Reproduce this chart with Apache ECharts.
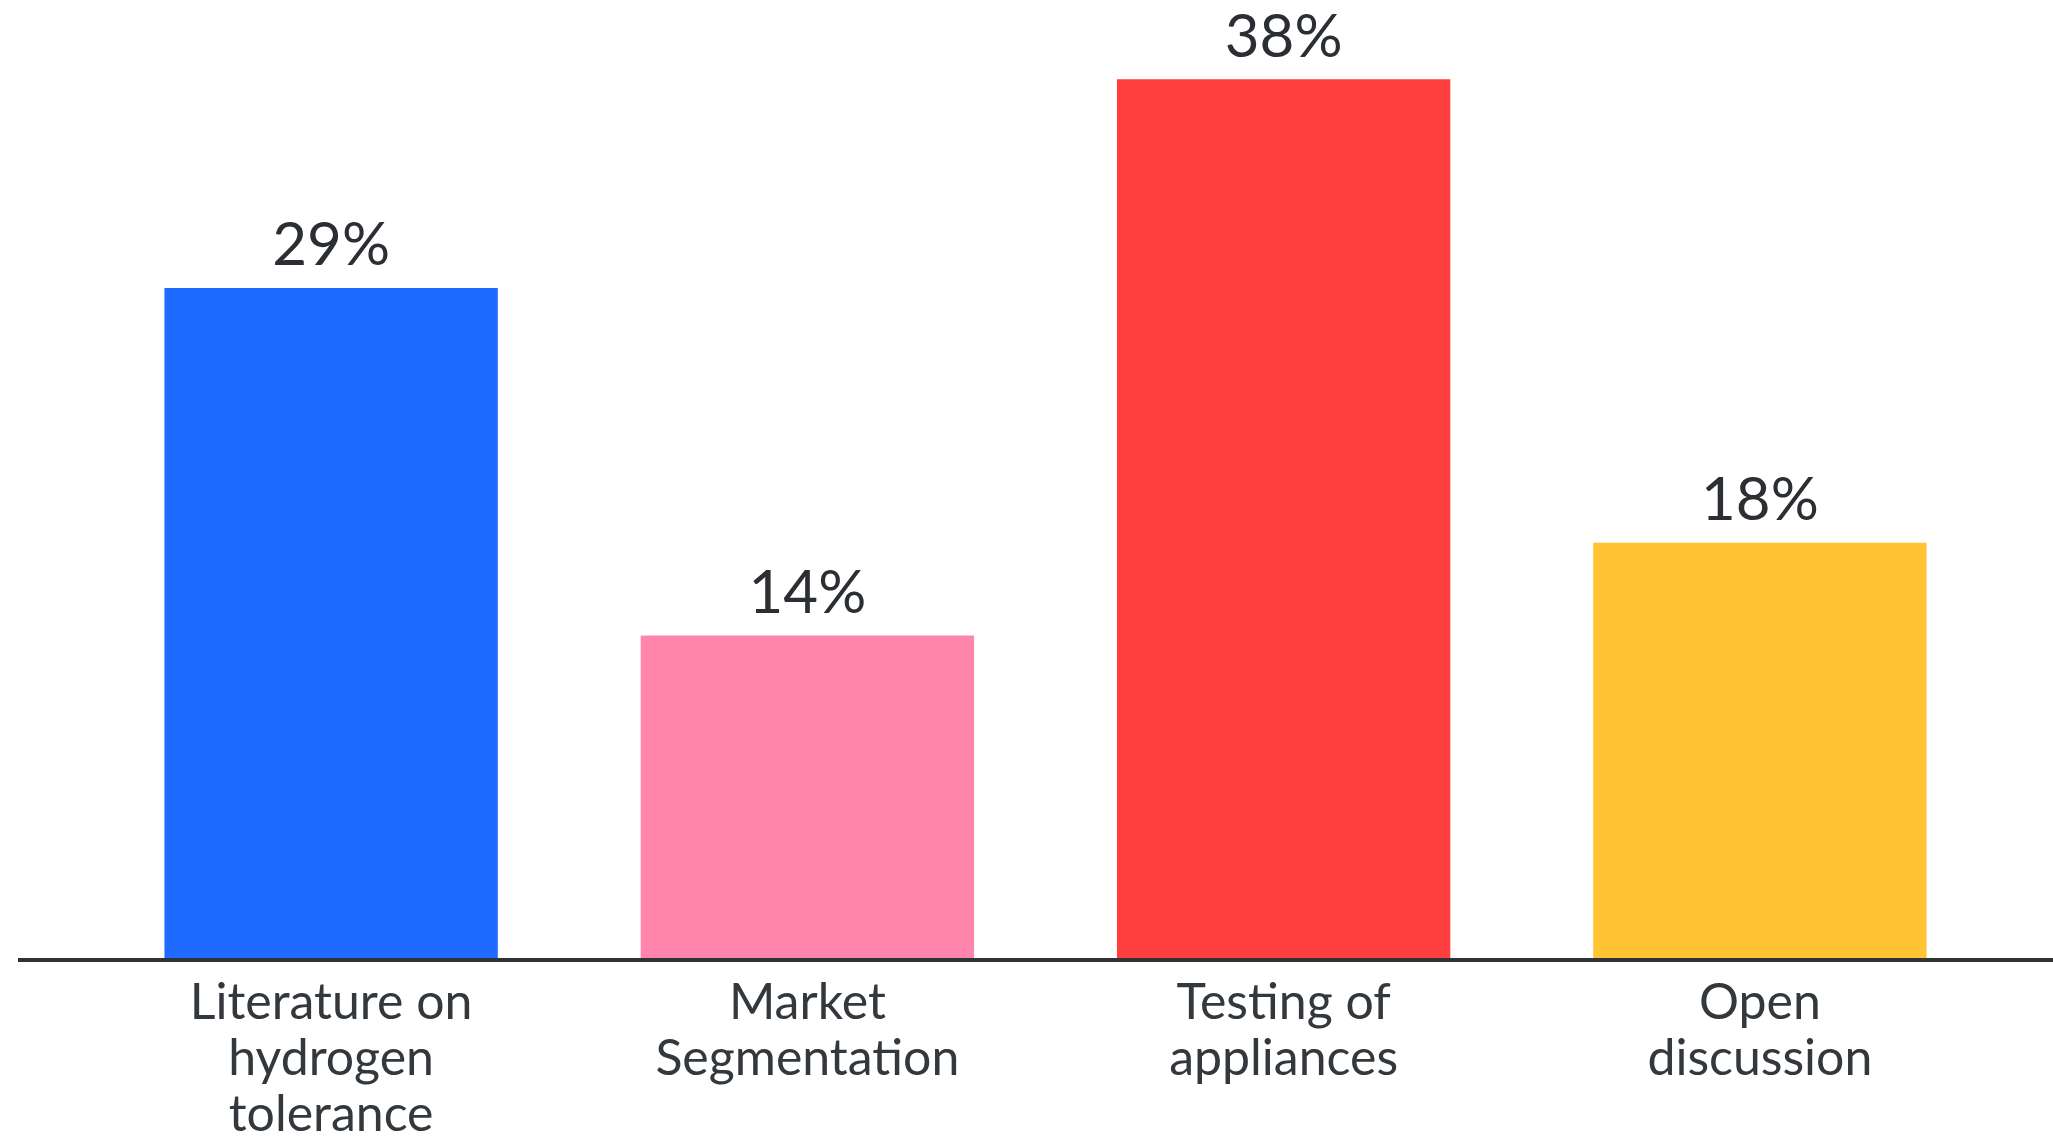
<!DOCTYPE html>
<html lang="en">
<head>
    <meta charset="UTF-8">
    <title>Bar chart</title>
    <script src="https://cdn.jsdelivr.net/npm/echarts@6/dist/echarts.min.js"></script>
    <style>
        * { margin: 0; padding: 0 }
        html, body { width: 100%; height: 100%; background: #fff; }
        #main { width: 2053px; height: 1139px; }
    </style>
</head>
<body>
<div id="main"></div>
<script>
    // data
    var categories = ['Literature on\nhydrogen\ntolerance', 'Market\nSegmentation', 'Testing of\nappliances', 'Open\ndiscussion'];
    var values = [29, 14, 38, 18];
    var barColors = ['#1f6bff', '#ff85ad', '#ff3e3e', '#ffc334'];

    var myChart = echarts.init(document.getElementById('main'));

    var option = {
        backgroundColor: '#ffffff',
        animation: false,
        grid: {
            left: 93,
            right: 55,
            top: 33,
            bottom: 179,
            containLabel: false,
            outerBoundsMode: 'none'
        },
        xAxis: {
            type: 'category',
            data: categories,
            axisLine: { show: false },
            axisTick: { show: false },
            axisLabel: {
                interval: 0,
                margin: 15,
                fontFamily: 'Lato',
                fontSize: 50,
                lineHeight: 56,
                color: '#33383d',
                verticalAlign: 'top'
            }
        },
        yAxis: {
            type: 'value',
            min: 0,
            max: 40,
            show: false,
            splitLine: { show: false }
        },
        series: [{
            type: 'bar',
            data: values.map(function (v, i) {
                return { value: v, itemStyle: { color: barColors[i] } };
            }),
            barCategoryGap: '30%',
            label: {
                show: true,
                position: 'top',
                distance: 12,
                formatter: '{c}%',
                fontFamily: 'Lato',
                fontSize: 60,
                color: '#2b2f33'
            }
        }]
    };

    myChart.setOption(option);

    // baseline runs the full width, wider than the grid
    var y0 = myChart.convertToPixel({ yAxisIndex: 0 }, 0);
    myChart.setOption({
        graphic: [{
            type: 'line',
            shape: { x1: 18, y1: y0, x2: 2053, y2: y0 },
            style: { stroke: '#2d3338', lineWidth: 4 },
            z: 100
        }]
    });
</script>
</body>
</html>
